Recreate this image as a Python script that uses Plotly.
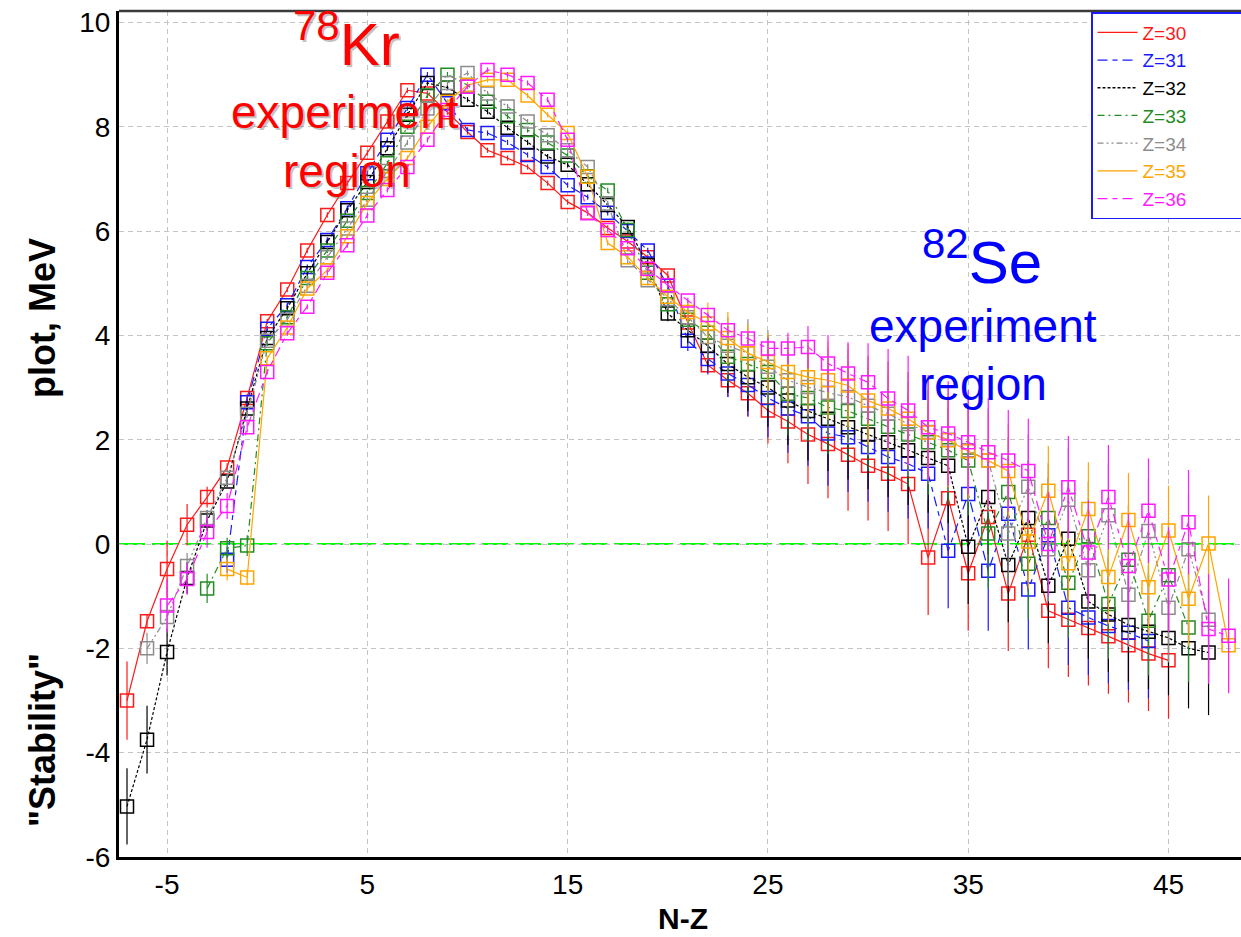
import plotly.graph_objects as go

# ---- N-Z values for each isotope chain ----
nz_z30 = list(range(-7, 46))
nz_z31 = list(range(-2, 45))
nz_z32 = list(range(-7, 48))
nz_z33 = list(range(-3, 47))
nz_z34 = list(range(-6, 48))
nz_z35 = list(range(-2, 49))
nz_z36 = list(range(-5, 49))

# ---- "Stability" values, MeV ----
stab_z30 = [-3.00, -1.48, -0.48, 0.37, 0.90, 1.47, 2.80, 4.27, 4.88, 5.63, 6.31, 6.92, 7.50, 8.10,
            8.70, 8.64, 8.28, 7.90, 7.55, 7.40, 7.23, 6.92, 6.56, 6.35, 6.06, 5.80, 5.50, 5.15,
            4.25, 3.43, 3.14, 2.89, 2.56, 2.35, 2.10, 1.92, 1.71, 1.50, 1.35, 1.15, -0.26, 0.88,
            -0.56, 0.52, -0.95, 0.18, -1.28, -1.45, -1.61, -1.77, -1.94, -2.10, -2.23]
stab_z31 = [-0.30, 2.72, 4.13, 4.58, 5.31, 5.83, 6.44, 7.11, 7.75, 8.36, 9.00, 8.45, 7.94, 7.88,
            7.70, 7.46, 7.23, 6.88, 6.65, 6.35, 6.00, 5.63, 4.95, 3.90, 3.55, 3.27, 3.05, 2.80,
            2.60, 2.45, 2.12, 2.05, 1.86, 1.67, 1.54, 1.35, -0.13, 0.96, -0.51, 0.58, -0.87, 0.17,
            -1.22, -1.41, -1.57, -1.70, -1.86]
stab_z32 = [-5.03, -3.75, -2.07, -0.65, 0.45, 1.20, 2.60, 3.95, 4.52, 5.19, 5.79, 6.40, 6.94, 7.59,
            8.23, 8.84, 8.75, 8.52, 8.29, 7.98, 7.70, 7.43, 7.27, 6.90, 6.50, 6.08, 5.35, 4.42,
            4.10, 3.80, 3.45, 3.20, 3.00, 2.75, 2.55, 2.40, 2.24, 2.10, 1.95, 1.80, 1.65, 1.50,
            -0.05, 0.90, -0.40, 0.50, -0.80, 0.10, -1.10, -1.35, -1.55, -1.68, -1.80, -2.00, -2.08]
stab_z33 = [-0.85, -0.08, -0.03, 3.85, 4.35, 5.10, 5.63, 6.20, 6.73, 7.30, 8.00, 8.60, 9.00, 8.80,
            8.48, 8.20, 7.94, 7.70, 7.45, 7.05, 6.78, 6.02, 5.20, 4.60, 4.30, 4.05, 3.59, 3.45,
            3.30, 2.88, 2.80, 2.62, 2.55, 2.40, 2.25, 2.10, 1.95, 1.80, 1.60, 0.20, 1.00, -0.38,
            0.50, -0.74, 0.15, -1.15, -0.30, -1.47, -0.60, -1.60]
stab_z34 = [-2.00, -1.40, -0.42, 0.50, 1.27, 2.50, 3.90, 4.30, 4.95, 5.50, 6.05, 6.60, 7.15, 7.70,
            8.35, 8.84, 9.03, 8.64, 8.39, 8.10, 7.84, 7.55, 7.23, 6.53, 5.44, 5.06, 4.70, 4.35,
            3.97, 3.80, 3.66, 3.40, 3.14, 3.01, 2.90, 2.82, 2.65, 2.50, 2.30, 2.15, 2.00, 1.80,
            1.60, 0.20, 1.10, -0.10, 0.85, -0.50, 0.55, -0.97, 0.25, -1.22, -0.10, -1.45]
stab_z35 = [-0.48, -0.64, 3.56, 4.15, 4.90, 5.25, 5.90, 6.54, 7.00, 7.40, 8.00, 8.48, 8.80, 8.90,
            8.90, 8.60, 8.23, 7.88, 7.04, 5.77, 5.50, 5.10, 4.74, 4.45, 4.23, 3.95, 3.66, 3.49,
            3.30, 3.20, 3.14, 3.04, 2.75, 2.60, 2.40, 2.14, 1.99, 1.78, 1.60, 1.40, 0.05, 1.02,
            -0.37, 0.67, -0.63, 0.46, -0.83, 0.26, -1.05, 0.01, -1.94]
stab_z36 = [-1.18, -0.67, 0.23, 0.73, 2.24, 3.30, 4.04, 4.55, 5.20, 5.73, 6.30, 6.79, 7.23, 7.75,
            8.32, 8.77, 9.09, 9.00, 8.84, 8.52, 7.75, 6.34, 6.02, 5.67, 5.28, 4.96, 4.67, 4.39,
            4.10, 3.94, 3.75, 3.75, 3.78, 3.46, 3.27, 3.10, 2.79, 2.56, 2.24, 2.12, 1.95, 1.76,
            1.60, 1.40, 0.00, 1.09, -0.16, 0.90, -0.42, 0.64, -0.68, 0.42, -1.63, -1.76]

# ---- uncertainties, MeV ----
err_z30 = [0.75, 0.12, 0.55, 0.40, 0.20, 0.08, 0.08, 0.05, 0.05, 0.05, 0.05, 0.05, 0.05, 0.05,
           0.05, 0.05, 0.05, 0.05, 0.05, 0.05, 0.05, 0.05, 0.05, 0.05, 0.05, 0.05, 0.05, 0.08,
           0.10, 0.15, 0.32, 0.45, 0.63, 0.80, 0.95, 1.04, 1.07, 1.05, 1.10, 1.15, 1.10, 1.10,
           1.10, 1.10, 1.10, 1.10, 1.10, 1.10, 1.10, 1.10, 1.10, 1.10, 1.12]
err_z31 = [0.25, 0.10, 0.05, 0.05, 0.05, 0.05, 0.05, 0.05, 0.05, 0.05, 0.05, 0.05, 0.05, 0.05,
           0.05, 0.05, 0.05, 0.05, 0.05, 0.05, 0.05, 0.05, 0.10, 0.20, 0.30, 0.45, 0.60, 0.75,
           0.85, 0.95, 1.00, 1.05, 1.05, 1.05, 1.05, 1.05, 1.10, 1.10, 1.15, 1.10, 1.15, 1.10,
           1.10, 1.10, 1.10, 1.10, 1.10]
err_z32 = [0.73, 0.65, 0.45, 0.30, 0.20, 0.10, 0.08, 0.05, 0.05, 0.05, 0.05, 0.05, 0.05, 0.05,
           0.05, 0.05, 0.05, 0.05, 0.05, 0.05, 0.05, 0.05, 0.05, 0.05, 0.05, 0.08, 0.10, 0.15,
           0.25, 0.40, 0.55, 0.65, 0.75, 0.85, 0.95, 1.00, 1.00, 1.05, 1.05, 1.05, 1.05, 1.10,
           1.10, 1.10, 1.10, 1.10, 1.10, 1.10, 1.10, 1.10, 1.10, 1.10, 1.10, 1.15, 1.20]
err_z33 = [0.28, 0.20, 0.20, 0.05, 0.05, 0.05, 0.05, 0.05, 0.05, 0.05, 0.05, 0.05, 0.05, 0.05,
           0.05, 0.05, 0.05, 0.05, 0.05, 0.05, 0.05, 0.05, 0.08, 0.10, 0.20, 0.35, 0.50, 0.60,
           0.70, 0.80, 0.85, 0.90, 0.95, 1.00, 1.00, 1.00, 1.00, 1.05, 1.05, 1.05, 1.05, 1.05,
           1.05, 1.05, 1.05, 1.05, 1.05, 1.05, 1.05, 1.05]
err_z34 = [0.30, 0.30, 0.25, 0.15, 0.10, 0.08, 0.05, 0.05, 0.05, 0.05, 0.05, 0.05, 0.05, 0.05,
           0.05, 0.05, 0.05, 0.05, 0.05, 0.05, 0.05, 0.05, 0.05, 0.05, 0.08, 0.10, 0.20, 0.30,
           0.45, 0.55, 0.65, 0.70, 0.75, 0.80, 0.85, 0.90, 0.95, 1.00, 1.00, 1.00, 1.00, 1.00,
           1.00, 1.00, 1.00, 1.00, 1.00, 1.00, 1.00, 1.00, 1.00, 1.05, 1.05, 1.10]
err_z35 = [0.22, 0.15, 0.05, 0.05, 0.05, 0.05, 0.05, 0.05, 0.05, 0.05, 0.05, 0.05, 0.05, 0.05,
           0.05, 0.05, 0.05, 0.05, 0.05, 0.05, 0.05, 0.05, 0.08, 0.20, 0.40, 0.50, 0.55, 0.55,
           0.65, 0.70, 0.75, 0.80, 0.85, 0.88, 0.90, 0.90, 0.90, 0.90, 0.90, 0.90, 0.90, 0.86,
           0.90, 0.90, 0.90, 0.90, 0.90, 0.86, 0.90, 0.92, 0.90]
err_z36 = [0.50, 0.30, 0.30, 0.25, 0.10, 0.05, 0.05, 0.05, 0.05, 0.05, 0.05, 0.05, 0.05, 0.05,
           0.05, 0.05, 0.05, 0.05, 0.05, 0.05, 0.05, 0.05, 0.05, 0.05, 0.05, 0.05, 0.05, 0.05,
           0.08, 0.10, 0.20, 0.30, 0.40, 0.55, 0.60, 0.75, 0.95, 1.05, 1.00, 1.00, 1.00, 1.04,
           0.97, 1.00, 1.00, 0.98, 1.00, 1.00, 1.00, 1.00, 1.00, 1.00, 1.05, 1.10]

series_names = ["Z=30", "Z=31", "Z=32", "Z=33", "Z=34", "Z=35", "Z=36"]
series_colors = ["#ff1a1a", "#1a1aff", "#000000", "#228b22", "#8c8c8c", "#ffa500", "#ff1aff"]
series_dash = ["solid", "10px,5px,5px,5px", "3px,2px", "7px,4px,2px,4px",
               "6px,3px,2px,3px,2px,3px", "solid", "10px,5px,5px,5px"]
series_x = [nz_z30, nz_z31, nz_z32, nz_z33, nz_z34, nz_z35, nz_z36]
series_y = [stab_z30, stab_z31, stab_z32, stab_z33, stab_z34, stab_z35, stab_z36]
series_err = [err_z30, err_z31, err_z32, err_z33, err_z34, err_z35, err_z36]

# axis ticks
x_ticks = [-5, 5, 15, 25, 35, 45]
x_ticktext = ["-5", "5", "15", "25", "35", "45"]
y_ticks = [-6, -4, -2, 0, 2, 4, 6, 8, 10]
y_ticktext = ["-6", "-4", "-2", "0", "2", "4", "6", "8", "10"]

SANS = "Liberation Sans, Arial, sans-serif"

fig = go.Figure()

for name, col, dash, xs, ys, es in zip(series_names, series_colors, series_dash,
                                       series_x, series_y, series_err):
    # line with error bars and open-square markers
    fig.add_trace(go.Scatter(
        x=xs, y=ys, mode="lines+markers", showlegend=False, name=name,
        line=dict(color=col, width=1.2, dash=dash),
        marker=dict(symbol="square-open", size=13, color=col, line=dict(width=1.5, color=col)),
        error_y=dict(type="data", array=es, visible=True, color=col, thickness=1.2, width=0),
    ))
    # legend entry: line sample only
    fig.add_trace(go.Scatter(
        x=[None], y=[None], mode="lines", showlegend=True,
        name=f"<span style='color:{col}'>{name}</span>" + "&nbsp;" * 12,
        line=dict(color=col, width=1.3, dash=dash),
    ))

# plot-area geometry (pixels)
L, R, T, B = 119, 1241, 11, 857
W, H = R - L, B - T


def px(xp):
    return (xp - L) / W


def py(yp):
    return (B - yp) / H


shapes = [
    # zero stability level
    dict(type="line", xref="paper", yref="y", x0=0, x1=1, y0=0, y1=0,
         line=dict(color="#00ff00", width=2, dash="26px,7px"), layer="below"),
    # top frame
    dict(type="line", xref="paper", yref="paper", x0=0, x1=1, y0=1, y1=1,
         line=dict(color="#3a3a3a", width=2.5)),
]

annotations = []


def label(text, xc, yc, size, color, bold=False, angle=0, shadow=False):
    if shadow:
        annotations.append(dict(text=text, x=px(xc + 2), y=py(yc + 2), xref="paper", yref="paper",
                                showarrow=False, xanchor="center", yanchor="middle", textangle=angle,
                                font=dict(size=size, color="rgba(120,120,120,0.45)", family=SANS)))
    annotations.append(dict(text=f"<b>{text}</b>" if bold else text, x=px(xc), y=py(yc),
                            xref="paper", yref="paper", showarrow=False, xanchor="center",
                            yanchor="middle", textangle=angle,
                            font=dict(size=size, color=color, family=SANS)))


# isotope labels
label("<sup>78</sup>Kr", 346, 40, 60, "#ff0000", shadow=True)
label("experiment", 345, 112, 46, "#ff0000", shadow=True)
label("region", 347, 171, 46, "#ff0000", shadow=True)
label("<sup>82</sup>Se", 982, 258, 60, "#0000ff")
label("experiment", 983, 326, 46, "#0000ff")
label("region", 983, 384, 46, "#0000ff")

# axis titles
label('"Stability"', 42, 740, 36, "#000000", bold=True, angle=-90)
label("plot, MeV", 42, 318, 36, "#000000", bold=True, angle=-90)
label("N-Z", 683, 918, 30, "#000000", bold=True)

fig.update_layout(
    width=1241, height=937,
    margin=dict(l=L, r=1241 - R, t=T, b=937 - B, autoexpand=False),
    paper_bgcolor="white", plot_bgcolor="white",
    showlegend=True,
    legend=dict(x=px(1091), y=py(12), xanchor="left", yanchor="top",
                bgcolor="white", bordercolor="#1a1aff", borderwidth=1.5,
                font=dict(family=SANS, size=19), tracegroupgap=0, itemwidth=40),
    shapes=shapes, annotations=annotations,
    xaxis=dict(range=[-7.4, 48.62], tickvals=x_ticks, ticktext=x_ticktext,
               showgrid=True, gridcolor="#c4c4c4", griddash="5px,4px", gridwidth=1,
               zeroline=False, showline=True, linecolor="black", linewidth=3,
               ticks="", tickfont=dict(family=SANS, size=28, color="black")),
    yaxis=dict(range=[-6, 10.22], tickvals=y_ticks, ticktext=y_ticktext,
               showgrid=True, gridcolor="#c4c4c4", griddash="5px,4px", gridwidth=1,
               zeroline=False, showline=True, linecolor="black", linewidth=3,
               ticks="", tickfont=dict(family=SANS, size=28, color="black")),
)

fig.write_html("out.html")
